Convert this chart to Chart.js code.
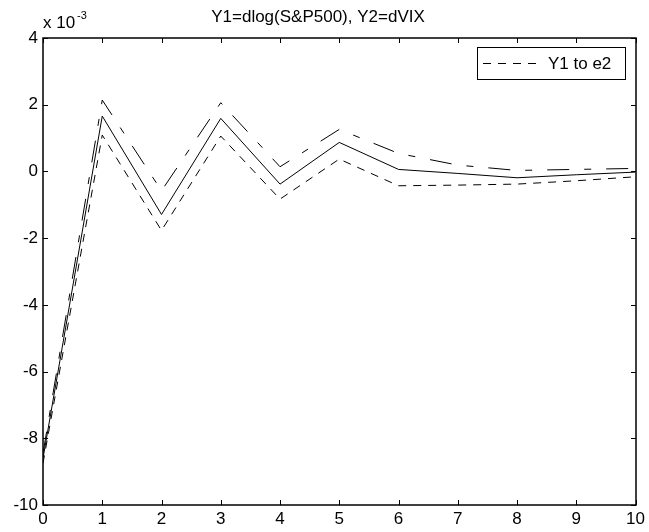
<!DOCTYPE html>
<html>
<head>
<meta charset="utf-8">
<script src="https://cdn.jsdelivr.net/npm/chart.js@4.4.1/dist/chart.umd.min.js"></script>
<style>
  html, body { margin: 0; padding: 0; background: #fff; }
  #wrap { width: 649px; height: 532px; position: relative; }
</style>
</head>
<body>
<div id="wrap"><canvas id="irf"></canvas></div>
<script>
// impulse response, values in units of 1e-3
const steps = [0, 1, 2, 3, 4, 5, 6, 7, 8, 9, 10];
const response = [-8.6, 1.66, -1.29, 1.59, -0.38, 0.87, 0.06, -0.06, -0.19, -0.10, -0.02];
const upperBand = [-8.45, 2.14, -0.58, 2.06, 0.14, 1.26, 0.54, 0.19, 0.03, 0.06, 0.09];
const lowerBand = [-8.75, 1.09, -1.77, 1.06, -0.83, 0.37, -0.43, -0.41, -0.38, -0.28, -0.16];
const xTicks = [0, 1, 2, 3, 4, 5, 6, 7, 8, 9, 10];
const yTicks = [-10, -8, -6, -4, -2, 0, 2, 4];

const FONT = "'Liberation Sans', Arial, Helvetica, sans-serif";
const LOWER_DASH = [8, 7];
const UPPER_DASH = [22, 15, 7, 15];

function pts(ys) {
  return steps.map((x, i) => ({ x, y: ys[i] }));
}

// MATLAB-like box with inward ticks, exponent label and legend
const matlabFrame = {
  id: 'matlabFrame',
  afterDraw(chart) {
    const { ctx, chartArea: a } = chart;
    const xs = chart.scales.x, ys = chart.scales.y;
    const L = Math.round(a.left), R = Math.round(a.right);
    const T = Math.round(a.top), B = Math.round(a.bottom);
    ctx.save();
    ctx.strokeStyle = '#000';
    ctx.lineWidth = 1.5;
    ctx.setLineDash([]);
    ctx.strokeRect(L, T, R - L, B - T);

    ctx.lineWidth = 1;
    ctx.beginPath();
    xTicks.forEach(v => {
      const px = Math.round(xs.getPixelForValue(v)) + 0.5;
      ctx.moveTo(px, B); ctx.lineTo(px, B - 5);
      ctx.moveTo(px, T); ctx.lineTo(px, T + 5);
    });
    yTicks.forEach(v => {
      const py = Math.round(ys.getPixelForValue(v)) + 0.5;
      ctx.moveTo(L, py); ctx.lineTo(L + 5, py);
      ctx.moveTo(R, py); ctx.lineTo(R - 5, py);
    });
    ctx.stroke();

    // exponent
    ctx.fillStyle = '#000';
    ctx.textAlign = 'left';
    ctx.textBaseline = 'alphabetic';
    ctx.font = '17px ' + FONT;
    ctx.fillText('x 10', 43, 28);
    ctx.font = '11px ' + FONT;
    ctx.fillText('-3', 77, 18.5);

    // legend
    const lx = 477.5, ly = 47.5, lw = 148, lh = 32;
    ctx.fillStyle = '#fff';
    ctx.fillRect(lx, ly, lw, lh);
    ctx.strokeStyle = '#000';
    ctx.lineWidth = 1;
    ctx.strokeRect(lx, ly, lw, lh);
    ctx.beginPath();
    ctx.setLineDash(LOWER_DASH);
    ctx.moveTo(483, 63.5);
    ctx.lineTo(542, 63.5);
    ctx.stroke();
    ctx.setLineDash([]);
    ctx.fillStyle = '#000';
    ctx.font = '17px ' + FONT;
    ctx.textBaseline = 'middle';
    ctx.fillText('Y1 to e2', 548, 64);
    ctx.restore();
  }
};

new Chart(document.getElementById('irf'), {
  type: 'line',
  data: {
    datasets: [
      { label: 'Y1 to e2', data: pts(lowerBand), borderDash: LOWER_DASH },
      { label: 'response', data: pts(response), borderDash: [] },
      { label: 'upper', data: pts(upperBand), borderDash: UPPER_DASH }
    ].map(d => Object.assign({
      borderColor: '#000',
      borderWidth: 1,
      pointRadius: 0,
      tension: 0,
      fill: false
    }, d))
  },
  options: {
    responsive: true,
    maintainAspectRatio: false,
    animation: false,
    events: [],
    layout: { padding: { left: 0, right: 13, top: 0, bottom: 0 } },
    plugins: {
      legend: { display: false },
      tooltip: { enabled: false },
      title: {
        display: true,
        text: 'Y1=dlog(S&P500), Y2=dVIX',
        color: '#000',
        font: { family: FONT, size: 17, weight: 'normal' },
        padding: { top: 7, bottom: 10.6 }
      }
    },
    scales: {
      x: {
        type: 'linear',
        min: 0, max: 10,
        afterBuildTicks: s => { s.ticks = xTicks.map(v => ({ value: v })); },
        afterFit: s => { s.height = 27; },
        grid: { display: false, drawTicks: false },
        border: { display: false },
        ticks: { color: '#000', padding: 4, maxRotation: 0, autoSkip: false, font: { family: FONT, size: 17 } }
      },
      y: {
        type: 'linear',
        min: -10, max: 4,
        afterBuildTicks: s => { s.ticks = yTicks.map(v => ({ value: v })); },
        afterFit: s => { s.width = 43; },
        grid: { display: false, drawTicks: false },
        border: { display: false },
        ticks: { color: '#000', padding: 5, autoSkip: false, font: { family: FONT, size: 17 } }
      }
    }
  },
  plugins: [matlabFrame]
});
</script>
</body>
</html>
